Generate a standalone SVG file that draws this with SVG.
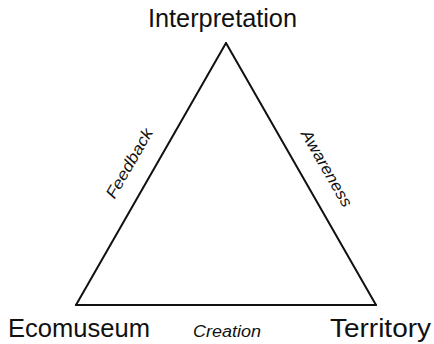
<svg xmlns="http://www.w3.org/2000/svg" width="434" height="344" viewBox="0 0 434 344">
<style>
.node{font-family:"Liberation Sans",Arial,sans-serif;font-size:25px;fill:#111}
.lbl{font-family:"Liberation Sans",Arial,sans-serif;font-size:16px;font-style:italic;fill:#111}
.edge{stroke:#111;stroke-width:2;fill:none;stroke-linecap:round}
</style>
<rect width="434" height="344" fill="#fff"/>
<g id="connectors">
<line class="edge" x1="226" y1="43" x2="76" y2="305"/>
<line class="edge" x1="226" y1="43" x2="376" y2="305"/>
<line class="edge" x1="76" y1="305" x2="376" y2="305"/>
<text class="lbl" transform="translate(134,166) rotate(-60)" text-anchor="middle" textLength="78" lengthAdjust="spacingAndGlyphs">Feedback</text>
<text class="lbl" transform="translate(322,171) rotate(60)" text-anchor="middle" textLength="86" lengthAdjust="spacingAndGlyphs">Awareness</text>
<text class="lbl" x="227" y="337" text-anchor="middle" textLength="68" lengthAdjust="spacingAndGlyphs">Creation</text>
</g>
<g id="interpretation"><text class="node" x="148" y="27" textLength="149" lengthAdjust="spacingAndGlyphs">Interpretation</text></g>
<g id="ecomuseum"><text class="node" x="8" y="337" textLength="142" lengthAdjust="spacingAndGlyphs">Ecomuseum</text></g>
<g id="territory"><text class="node" x="330" y="337" textLength="101" lengthAdjust="spacingAndGlyphs">Territory</text></g>
</svg>
